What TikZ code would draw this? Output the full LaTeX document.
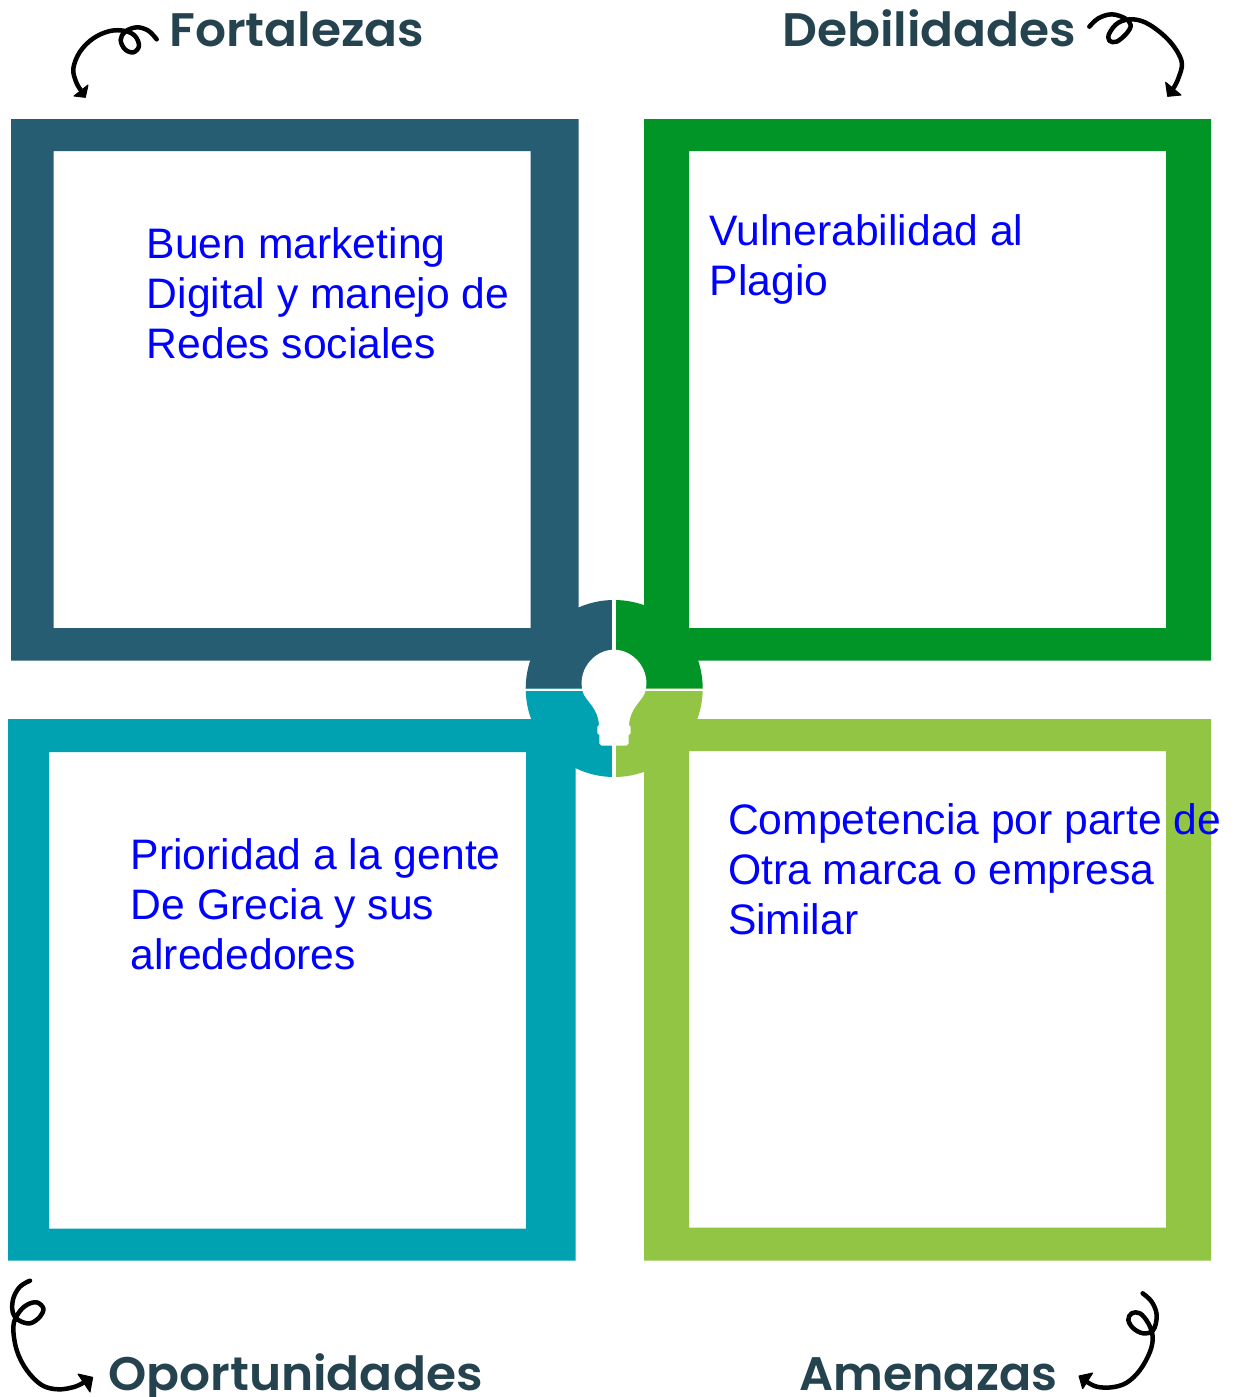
\documentclass[tikz,border=0pt]{standalone}
\usepackage{fontspec}
\setmainfont{Liberation Sans}
\newfontfamily\headfont[FakeStretch=1.036]{Poppins SemiBold}
\newfontfamily\headfontnarrow[FakeStretch=1.012]{Poppins SemiBold}
\definecolor{cTL}{HTML}{275D73}
\definecolor{cTR}{HTML}{009526}
\definecolor{cBL}{HTML}{00A1B0}
\definecolor{cBR}{HTML}{92C544}
\definecolor{cHead}{HTML}{25434F}
\tikzset{
  framebox/.style={even odd rule},
  bodytext/.style={anchor=north west,inner sep=0pt,align=left,text=blue,font=\fontsize{42.65}{50}\selectfont},
  headtext/.style={anchor=base west,inner sep=0pt,text=cHead,font=\fontsize{47}{50}\headfont},
  squiggle/.style={black,line width=4.5pt,line cap=round,line join=round},
  tipfill/.style={fill=black,draw=black,line width=1pt,line join=round}
}
\begin{document}
\begin{tikzpicture}[x=1pt,y=-1pt]
\useasboundingbox (0,0) rectangle (1235,1397);
\clip (0,0) rectangle (1235,1397);
\fill[white] (0,0) rectangle (1235,1397);
% frames
\fill[cTL,framebox] (11,119) rectangle (578.5,660.5) (53.5,151) rectangle (530.5,628);
\fill[cTR,framebox] (644,119) rectangle (1211,660.5) (689,151) rectangle (1166,628);
\fill[cBL,framebox] (8,719) rectangle (575.5,1260.5) (49,752) rectangle (526,1228.5);
\fill[cBR,framebox] (644,719) rectangle (1211,1260.5) (689,751) rectangle (1166,1227.5);
% hub wedges (pt radii: angles run in page orientation)
\fill[cTL] (614.2,688.5) -- (525.7,688.5) arc[start angle=180,end angle=90,radius=88.5pt] -- cycle;
\fill[cTR] (614.2,688.5) -- (614.2,600) arc[start angle=90,end angle=0,radius=88.5pt] -- cycle;
\fill[cBR] (614.2,688.5) -- (702.7,688.5) arc[start angle=0,end angle=-90,radius=88.5pt] -- cycle;
\fill[cBL] (614.2,688.5) -- (614.2,777) arc[start angle=-90,end angle=-180,radius=88.5pt] -- cycle;
% gaps
\fill[white] (612.3,596) rectangle (615.7,780);
\fill[white] (522,689.2) rectangle (706,691);
% bulb
\fill[white] (583.3,693.3) .. controls (576,672) and (593,649.7) .. (614,649.7)
  .. controls (635,649.7) and (652,672) .. (644.7,693.3)
  .. controls (641,702) and (630,708) .. (629,725)
  -- (630.7,726.7) -- (630.7,733.3) -- (628.7,735) -- (628.7,743.3) -- (626.3,745.7)
  -- (601.7,745.7) -- (599.3,743.3) -- (599.3,735) -- (597.3,733.3) -- (597.3,726.7) -- (599,725)
  .. controls (598,708) and (587,702) .. (583.3,693.3) -- cycle;
% body text
\node[bodytext] (fort) at (146.6,227) {Buen marketing\\Digital y manejo de\\Redes sociales};
\node[bodytext] (deb) at (709.6,214) {Vulnerabilidad al\\Plagio};
\node[bodytext] (opo) at (130.6,838) {Prioridad a la gente\\De Grecia y sus\\alrededores};
\node[bodytext] (ame) at (727.8,803) {Competencia por parte de\\Otra marca o empresa\\Similar};
% headings
\node[headtext] (hF) at (169,47) {Fortalezas};
\node[headtext] (hD) at (782,47) {Debilidades};
\node[headtext] (hO) at (108,1390.5) {Oportunidades};
\node[headtext,font=\fontsize{47}{50}\headfontnarrow] (hA) at (799,1390.5) {Amenazas};
% squiggles
\begin{scope}[xshift=50pt,scale=0.33333]
\draw[squiggle] plot[smooth,tension=.6] coordinates {(320,118)(295,92)(260,82)(225,95)(212,120)(225,148)(250,157)(267,138)(255,108)(225,93)(180,93)(130,115)(90,155)(70,205)(78,245)(92,270)};
\fill[tipfill] (72,288) -- (106,292) -- (114,255) -- cycle;
\end{scope}
\begin{scope}[xshift=1070pt,scale=0.33333]
\draw[squiggle] plot[smooth,tension=.6] coordinates {(58,80)(85,55)(125,43)(165,55)(182,75)(170,100)(140,125)(118,122)(118,100)(145,68)(190,58)(240,75)(300,125)(335,185)(325,235)(310,265)};
\fill[tipfill] (287,247) -- (293,289) -- (333,285) -- cycle;
\end{scope}
\begin{scope}[yshift=-1270pt,scale=0.33333]
\draw[squiggle] plot[smooth,tension=.6] coordinates {(90,32)(60,50)(40,85)(38,125)(55,150)(90,160)(120,140)(130,115)(110,97)(80,105)(55,130)(40,170)(50,240)(80,300)(125,345)(175,358)(225,350)(255,335)};
\fill[tipfill] (234,312) -- (278,322) -- (270,366) -- cycle;
\end{scope}
\begin{scope}[xshift=1060pt,yshift=-1280pt,scale=0.33333]
\draw[squiggle] plot[smooth,tension=.6] coordinates {(248,40)(275,65)(290,105)(280,150)(250,160)(220,145)(205,120)(215,100)(240,100)(265,130)(278,170)(270,215)(240,270)(200,308)(155,322)(110,320)(80,305)};
\fill[tipfill] (57,288) -- (98,279) -- (68,326) -- cycle;
\end{scope}
\end{tikzpicture}
\end{document}
